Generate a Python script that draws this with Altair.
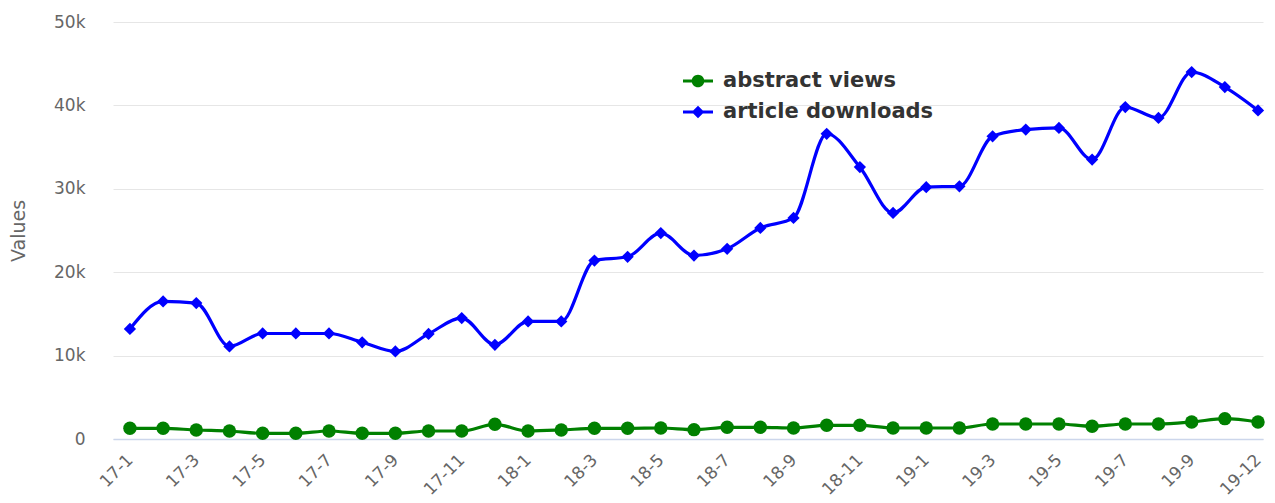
import altair as alt
import pandas as pd
import json

months = (
    [f"17-{m}" for m in range(1, 13)]
    + [f"18-{m}" for m in range(1, 13)]
    + [f"19-{m}" for m in range(1, 11)]
    + ["19-12"]
)

abstract_views = [
    1280, 1280, 1080, 960, 680, 680, 960, 680, 680, 960, 960, 1760,
    960, 1080, 1280, 1280, 1320, 1120, 1400, 1400, 1320, 1640, 1640, 1320,
    1320, 1320, 1800, 1800, 1800, 1520, 1800, 1800, 2040, 2440, 2040,
]
article_downloads = [
    13200, 16500, 16300, 11100, 12650, 12650, 12650, 11600, 10500, 12600, 14500, 11300,
    14100, 14100, 21400, 21850, 24700, 22000, 22800, 25300, 26500, 36600, 32600, 27100,
    30200, 30300, 36300, 37100, 37300, 33500, 39800, 38500, 44000, 42200, 39400,
]

series_names = ["abstract views", "article downloads"]
series_colors = ["#008000", "#0000ff"]
label_idx = list(range(0, 33, 2)) + [34]

rows = []
for i, m in enumerate(months):
    rows.append({"month": m, "series": series_names[0], "value": abstract_views[i], "idx": i})
    rows.append({"month": m, "series": series_names[1], "value": article_downloads[i], "idx": i})
df = pd.DataFrame(rows)

FONT = "DejaVu Sans"
month_array = json.dumps(months)

x_enc = alt.X(
    "idx:Q",
    scale=alt.Scale(domain=[-0.51, 34.15], nice=False, zero=False),
    axis=alt.Axis(
        title=None,
        values=label_idx,
        labelExpr=f"{month_array}[datum.value]",
        labelAngle=-45,
        labelAlign="right",
        labelBaseline="middle",
        labelFontSize=17,
        labelColor="#666666",
        labelFont=FONT,
        labelPadding=18,
        labelFlush=False,
        labelOverlap=False,
        ticks=False,
        domainColor="#ccd6eb",
        domainWidth=1.5,
        grid=False,
    ),
)
y_enc = alt.Y(
    "value:Q",
    scale=alt.Scale(domain=[0, 50000], nice=False),
    axis=alt.Axis(
        title="Values",
        values=[0, 10000, 20000, 30000, 40000, 50000],
        labelExpr="datum.value == 0 ? '0' : (datum.value / 1000) + 'k'",
        labelFontSize=17,
        labelColor="#666666",
        labelFont=FONT,
        labelPadding=28,
        titleFont=FONT,
        titleFontSize=19,
        titleFontWeight="normal",
        titleColor="#666666",
        titlePadding=25,
        ticks=False,
        domain=False,
        gridColor="#e6e6e6",
        gridWidth=1,
    ),
)

color_scale = alt.Scale(domain=series_names, range=series_colors)

base = alt.Chart(df)

lines = base.mark_line(interpolate="monotone", strokeWidth=3.2).encode(
    x=x_enc,
    y=y_enc,
    color=alt.Color("series:N", scale=color_scale, legend=None),
    detail="series:N",
)

points = base.mark_point(filled=True, opacity=1).encode(
    x=x_enc,
    y=y_enc,
    color=alt.Color("series:N", scale=color_scale, legend=None),
    shape=alt.Shape("series:N", scale=alt.Scale(domain=series_names, range=["circle", "diamond"]), legend=None),
    size=alt.Size("series:N", scale=alt.Scale(domain=series_names, range=[180, 150]), legend=None),
)

legend_paths = [
    "M-1,-0.1H1V0.1H-1Z M0.42,0A0.42,0.42,0,1,1,-0.42,0A0.42,0.42,0,1,1,0.42,0Z",
    "M-1,-0.1H1V0.1H-1Z M0,-0.42L0.42,0L0,0.42L-0.42,0Z",
]

legend_layer = base.transform_filter("false").mark_point(filled=True, opacity=1).encode(
    x=x_enc,
    y=y_enc,
    color=alt.Color(
        "series:N",
        scale=alt.Scale(domain=series_names, range=series_colors),
        legend=alt.Legend(
            title=None,
            orient="none",
            legendX=570,
            legendY=44,
            padding=0,
            symbolSize=900,
            symbolStrokeWidth=0,
            symbolOpacity=1,
            labelFontSize=21,
            labelFontWeight="bold",
            labelColor="#333333",
            labelFont=FONT,
            labelOffset=10,
            labelLimit=0,
            rowPadding=6,
        ),
    ),
    shape=alt.Shape("series:N", scale=alt.Scale(domain=series_names, range=legend_paths)),
)

chart = (
    alt.layer(lines, points, legend_layer)
    .resolve_scale(color="independent", shape="independent")
    .properties(
        width=1150,
        height=417,
        background="white",
        autosize=alt.AutoSizeParams(type="none"),
        padding={"left": 105, "top": 14, "right": 4, "bottom": 64},
    )
    .configure_view(stroke="transparent", strokeWidth=0)
)

chart.save("out.html", embed_options={"renderer": "svg", "actions": False})
